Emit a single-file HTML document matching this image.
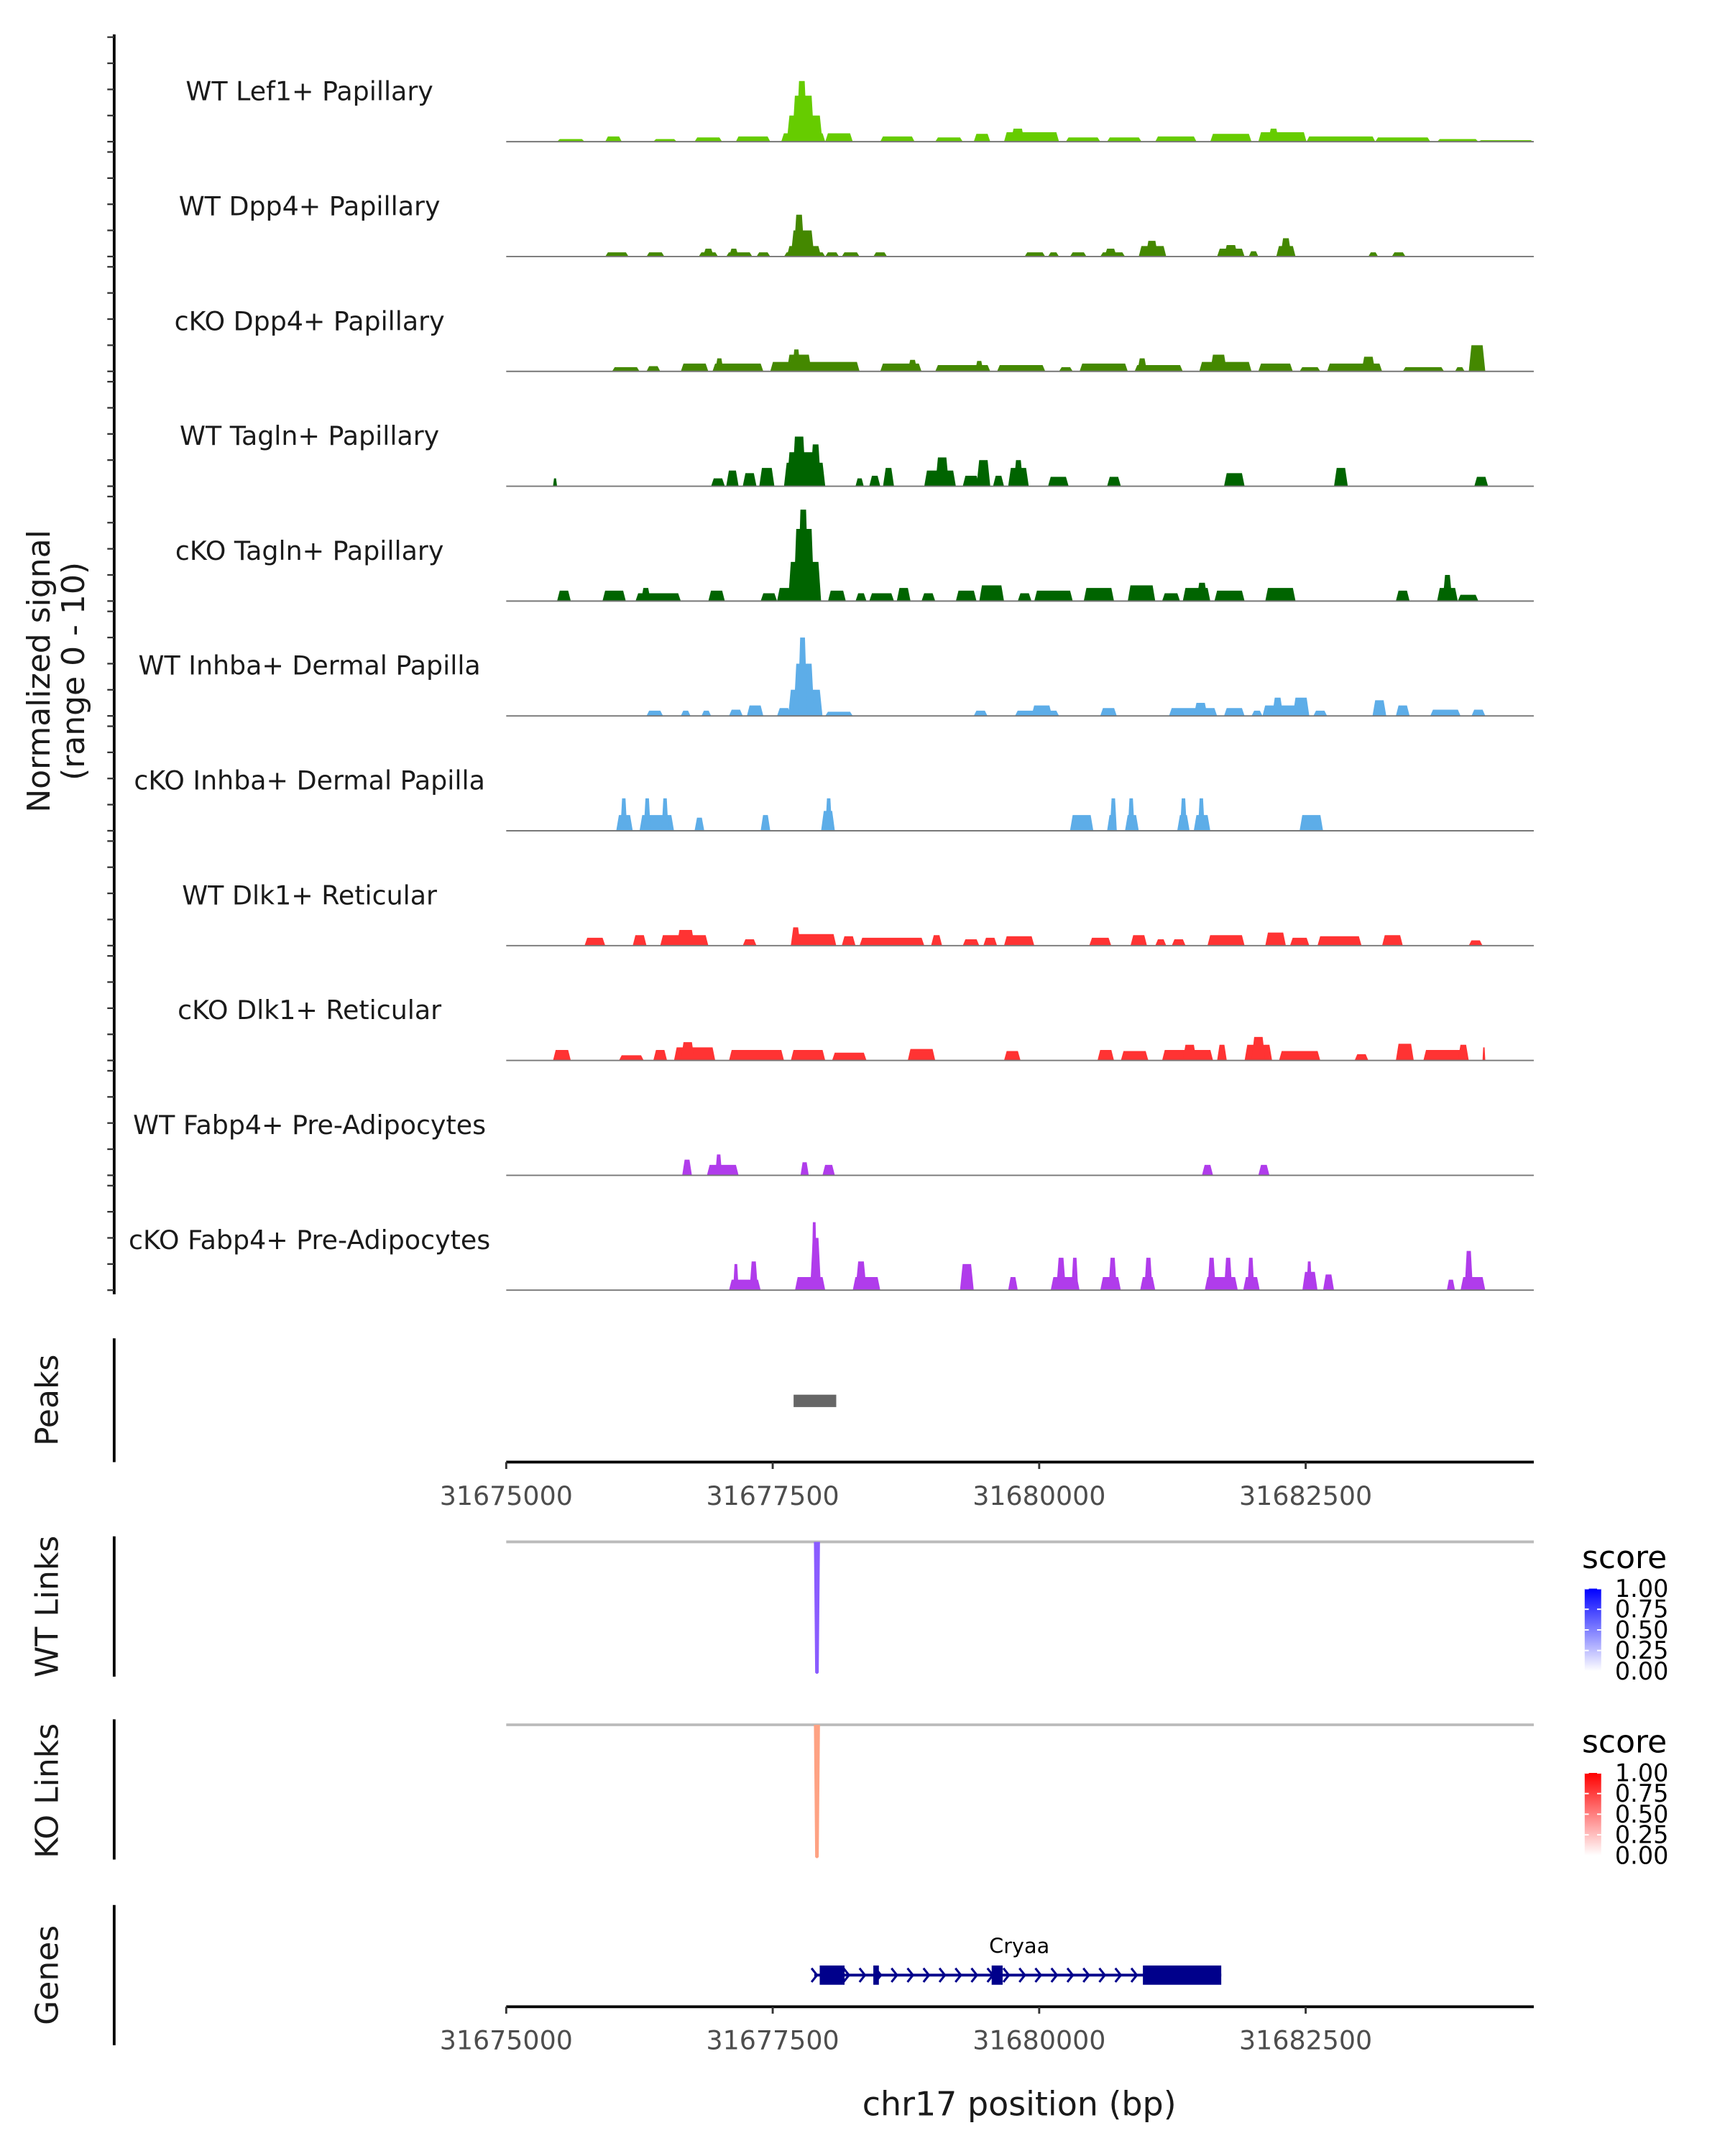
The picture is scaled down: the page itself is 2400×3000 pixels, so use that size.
<!DOCTYPE html>
<html><head><meta charset="utf-8">
<style>
html,body{margin:0;padding:0;background:#fff;}
svg{display:block;font-family:"DejaVu Sans","Liberation Sans",sans-serif;}
</style></head>
<body>
<svg id="chart" xmlns="http://www.w3.org/2000/svg" width="2400" height="3000" viewBox="0 0 1254 1567.5">
</svg>
<script>
// genomic offsets are relative to regionStart (bp); values are normalized signal (0-10)
const regionStart = 31675000;
const axisTicks = [31675000, 31677500, 31680000, 31682500];
const trackNames = ["WT Lef1+ Papillary","WT Dpp4+ Papillary","cKO Dpp4+ Papillary","WT Tagln+ Papillary","cKO Tagln+ Papillary","WT Inhba+ Dermal Papilla","cKO Inhba+ Dermal Papilla","WT Dlk1+ Reticular","cKO Dlk1+ Reticular","WT Fabp4+ Pre-Adipocytes","cKO Fabp4+ Pre-Adipocytes"];
const trackColors = ["#66cc00","#448800","#448800","#006400","#006400","#5dade8","#5dade8","#ff3333","#ff3333","#b03ceb","#b03ceb"];
const sigLef1WT = [[477,735,0.25],[929,1084,0.5],[1380,1600,0.25],[1767,2025,0.4],[2154,2477,0.5],[2580,2993,0.8],[2632,2967,2.5],[2683,2890,4.4],[2722,2825,5.8],[2993,3251,0.8],[3509,3831,0.5],[4025,4283,0.4],[4386,4541,0.75],[4670,5186,0.9],[4734,4863,1.25],[5250,5573,0.4],[5637,5960,0.4],[6089,6476,0.5],[6605,6992,0.75],[7056,7508,0.9],[7147,7250,1.25],[7508,8153,0.5],[8153,8669,0.4],[8733,9120,0.25],[9120,9636,0.15]];
const sigDpp4WT = [[929,1148,0.4],[1316,1484,0.4],[1806,1987,0.4],[1845,1948,0.75],[2064,2309,0.4],[2090,2180,0.75],[2348,2477,0.4],[2606,2993,0.4],[2632,2954,1],[2670,2890,2.5],[2696,2799,4],[2993,3122,0.4],[3148,3315,0.4],[3444,3573,0.4],[4863,5057,0.4],[5083,5186,0.4],[5289,5444,0.4],[5573,5805,0.4],[5612,5728,0.75],[5934,6192,1],[5999,6115,1.5],[6669,6927,0.75],[6734,6863,1.1],[6966,7056,0.5],[7224,7405,1],[7263,7366,1.75],[8088,8179,0.4],[8308,8437,0.4]];
const sigDpp4KO = [[993,1251,0.4],[1316,1445,0.5],[1638,1896,0.75],[1935,2412,0.75],[1961,2038,1.25],[2477,3315,0.9],[2632,2864,1.6],[2683,2761,2.1],[3509,3896,0.75],[3767,3857,1.1],[4025,4541,0.6],[4399,4476,1],[4605,5057,0.6],[5186,5315,0.4],[5379,5831,0.75],[5895,6347,0.6],[5921,6011,1.25],[6502,6992,0.9],[6605,6760,1.6],[7056,7379,0.75],[7443,7637,0.4],[7701,8217,0.75],[8024,8153,1.4],[8411,8798,0.4],[8901,8991,0.4],[9030,9185,2.5]];
const sigTaglnWT = [[439,477,0.75],[1922,2051,0.75],[2064,2180,1.5],[2219,2348,1.25],[2374,2516,1.75],[2606,2993,2.25],[2632,2941,3.25],[2683,2812,4.75],[2851,2954,4],[3277,3354,0.75],[3406,3509,1],[3535,3638,1.75],[3922,4218,1.5],[4025,4154,2.75],[4283,4438,1],[4412,4541,2.5],[4567,4670,1],[4709,4902,1.75],[4760,4850,2.5],[5083,5276,0.9],[5637,5766,0.9],[6734,6927,1.25],[7766,7895,1.75],[9082,9211,0.9]];
const sigTaglnKO = [[477,606,1],[903,1122,1],[1213,1638,0.75],[1264,1355,1.25],[1896,2051,1],[2387,2541,0.75],[2541,2954,1.25],[2645,2954,3.75],[2696,2890,6.9],[2735,2838,8.75],[3019,3186,1],[3277,3380,0.75],[3406,3638,0.75],[3664,3793,1.25],[3896,4025,0.75],[4218,4412,1],[4438,4670,1.5],[4799,4928,0.75],[4954,5315,1],[5418,5702,1.25],[5831,6089,1.5],[6153,6321,0.75],[6347,6605,1.25],[6476,6579,1.75],[6644,6927,1],[7121,7405,1.25],[8346,8475,1],[8733,8927,1.25],[8785,8875,2.5],[8927,9120,0.6]];
const sigInhbaWT = [[1316,1471,0.5],[1638,1729,0.5],[1832,1922,0.5],[2090,2219,0.6],[2258,2412,1],[2541,2670,0.75],[2645,2967,2.5],[2696,2890,5],[2735,2825,7.5],[2993,3251,0.4],[4386,4515,0.5],[4773,5186,0.5],[4928,5121,1],[5573,5728,0.75],[6218,6669,0.75],[6450,6579,1.25],[6734,6927,0.75],[6992,7095,0.5],[7095,7443,1],[7185,7289,1.75],[7379,7534,1.75],[7572,7701,0.5],[8127,8256,1.5],[8346,8475,1],[8669,8953,0.6],[9056,9185,0.6]];
const sigInhbaKO = [[1032,1187,1.5],[1071,1135,3.1],[1251,1574,1.5],[1290,1355,3.1],[1458,1522,3.1],[1767,1858,1.25],[2387,2477,1.5],[2954,3083,1.9],[2993,3057,3.1],[5289,5508,1.5],[5637,5728,1.5],[5663,5728,3.1],[5805,5934,1.5],[5831,5895,3.1],[6295,6411,1.5],[6321,6386,3.1],[6450,6605,1.5],[6489,6553,3.1],[7443,7663,1.5]];
const sigDlk1WT = [[735,929,0.75],[1187,1316,1],[1445,1896,1],[1600,1767,1.5],[2219,2348,0.6],[2670,3096,1.1],[2670,2761,1.75],[3148,3277,0.9],[3315,3922,0.75],[3986,4089,1],[4283,4438,0.6],[4476,4605,0.75],[4670,4954,0.9],[5470,5676,0.75],[5857,6011,1],[6089,6192,0.6],[6244,6373,0.6],[6579,6927,1],[7121,7314,1.25],[7353,7534,0.75],[7611,8024,0.9],[8217,8411,1],[9030,9159,0.5]];
const sigDlk1KO = [[439,606,1],[1058,1290,0.5],[1380,1509,1],[1574,1961,1.25],[1638,1767,1.75],[2090,2606,1],[2670,2993,1],[3057,3380,0.75],[3767,4025,1.1],[4670,4825,0.9],[5547,5702,1],[5766,6024,0.9],[6153,6631,1],[6347,6476,1.5],[6669,6760,1.5],[6927,7185,1.5],[6992,7121,2.25],[7250,7637,0.9],[7959,8088,0.6],[8346,8514,1.6],[8604,9030,1],[8927,9030,1.5],[9159,9185,1.25]];
const sigFabp4WT = [[1651,1742,1.5],[1883,2180,1],[1961,2025,2],[2761,2838,1.25],[2967,3083,1],[6527,6631,1],[7056,7160,1]];
const sigFabp4KO = [[2090,2387,1],[2129,2180,2.5],[2283,2361,2.75],[2709,2993,1.25],[2851,2954,5],[2864,2915,6.5],[3251,3509,1.25],[3277,3380,2.75],[4257,4386,2.5],[4709,4799,1.25],[5108,5379,1.25],[5160,5250,3.1],[5302,5366,3.1],[5573,5766,1.25],[5650,5728,3.1],[5947,6089,1.25],[5986,6063,3.1],[6553,6863,1.25],[6579,6656,3.1],[6734,6811,3.1],[6914,7069,1.25],[6953,7018,3.1],[7469,7611,1.75],[7508,7559,2.75],[7663,7766,1.5],[8824,8901,1],[8953,9185,1.25],[8991,9069,3.75]];
const trackSignals = [sigLef1WT,sigDpp4WT,sigDpp4KO,sigTaglnWT,sigTaglnKO,sigInhbaWT,sigInhbaKO,sigDlk1WT,sigDlk1KO,sigFabp4WT,sigFabp4KO];
const peakRanges = [[2696,3096]];
const wtLinks = [[2915,0.6]];
const koLinks = [[2915,0.5]];
const geneSpan = [2890,6708];
const geneExons = [[2941,3174],[3444,3496],[4554,4657],[5973,6708]];
const legendTicks = [1.00,0.75,0.50,0.25,0.00];

const NS="http://www.w3.org/2000/svg";
const svg=document.getElementById('chart');
const X0=368, X1=1115, BP0=31675000, BP1=31684640;
function xs(bp){return X0+(bp-BP0)/(BP1-BP0)*(X1-X0);}
function xo(off){return xs(regionStart+off);}
const TRACK_H=76;
function ys(base,v){return base - v/10*TRACK_H;}
function el(tag,attrs,parent){const e=document.createElementNS(NS,tag);for(const k in attrs)e.setAttribute(k,attrs[k]);(parent||svg).appendChild(e);return e;}

let t=el('text',{x:0,y:0,transform:'translate(42,488) rotate(-90)','text-anchor':'middle','font-size':23,fill:'#1a1a1a'});


t.innerHTML='<tspan x="0" dy="-6">Normalized signal</tspan><tspan x="0" dy="25">(range 0 - 10)</tspan>';

let ax=el('line',{x1:83,x2:83,y1:25,y2:941,stroke:'#000','stroke-width':2});



trackNames.forEach((name,i)=>{
  const base=103+i*83.5;
  const g=el('g',{});
  
  
  [0,2.5,5,7.5,10].forEach(v=>{
    const tk=el('line',{x1:78,x2:83,y1:ys(base,v),y2:ys(base,v),stroke:'#333','stroke-width':1.2},g);
    
    
  });
  const lb=el('text',{x:225,y:base-30,'text-anchor':'middle','font-size':19,fill:'#1a1a1a'},g);
  
  
  lb.textContent=name;
  trackSignals[i].forEach(b=>{
    const s=b[0],e=b[1],v=b[2];
    const sl=Math.min(25,(e-s)/4);
    const pts=[[xo(s),base],[xo(s+sl),ys(base,v)],[xo(e-sl),ys(base,v)],[xo(e),base]].map(p=>p.join(',')).join(' ');
    const p=el('polygon',{points:pts,fill:trackColors[i]},g);
    
    
  });
  const bl=el('line',{x1:X0,x2:X1,y1:base,y2:base,stroke:'#777','stroke-width':1},g);
  
  
});

function sideLabel(text,y,y1,y2,name){
  const tx=el('text',{transform:'translate(42,'+y+') rotate(-90)','text-anchor':'middle','font-size':23,fill:'#1a1a1a'});
  
  
  tx.textContent=text;
  const l=el('line',{x1:83,x2:83,y1:y1,y2:y2,stroke:'#000','stroke-width':2});
  
  
}
function xAxis(y,name){
  const g=el('g',{});
  
  
  el('line',{x1:X0,x2:X1,y1:y,y2:y,stroke:'#000','stroke-width':2},g);
  axisTicks.forEach(v=>{
    const x=xs(v);
    el('line',{x1:x,x2:x,y1:y,y2:y+5,stroke:'#333','stroke-width':1.5},g);
    const tl=el('text',{x:x,y:y+31,'text-anchor':'middle','font-size':19,fill:'#4d4d4d'},g);
    
    
    tl.textContent=v;
  });
}

sideLabel('Peaks',1018,973,1063,'peaks');
peakRanges.forEach(p=>{
  const r=el('rect',{x:xo(p[0]),y:1014,width:xo(p[1])-xo(p[0]),height:9,fill:'#666'});
  
  
});
xAxis(1063,'peaks-x-axis');

function linkTrack(links,top,bottom,col,name,label,ly){
  sideLabel(label,ly,top-4,top+98,name);
  const gl=el('line',{x1:X0,x2:X1,y1:top,y2:top,stroke:'#bbb','stroke-width':2});
  
  
  links.forEach(l=>{
    const x=xo(l[0]);
    const p=el('path',{d:`M${x-2.2},${top} L${x+2.2},${top} L${x+1.3},${bottom} Q${x},${bottom+2} ${x-1.3},${bottom} Z`,fill:col});
    
    
  });
}
linkTrack(wtLinks,1121,1216,'#8a5cff','wt-links','WT Links',1168);
linkTrack(koLinks,1254,1350,'#fea283','ko-links','KO Links',1302);

function legend(y,c1,name,id){
  const g=el('g',{});
  
  
  const d=el('defs',{},g);
  const lg=el('linearGradient',{id:id,x1:0,y1:0,x2:0,y2:1},d);
  el('stop',{offset:0,'stop-color':c1},lg);
  el('stop',{offset:1,'stop-color':'#fff'},lg);
  const st=el('text',{x:1150,y:y,'font-size':23,fill:'#000'},g);
  st.textContent='score';
  const by=y+15, bh=60;
  el('rect',{x:1152,y:by,width:12,height:bh,fill:'url(#'+id+')'},g);
  legendTicks.forEach(v=>{
    const yy=by+(1-v)*bh;
    el('line',{x1:1152,x2:1155,y1:yy,y2:yy,stroke:'#fff'},g);
    el('line',{x1:1161,x2:1164,y1:yy,y2:yy,stroke:'#fff'},g);
    const lt=el('text',{x:1174,y:yy+6,'font-size':17.5,fill:'#000'},g);
    lt.textContent=v.toFixed(2);
  });
}
legend(1140,'#0000ff','wt-score-legend','gB');
legend(1274,'#ff0000','ko-score-legend','gR');

sideLabel('Genes',1436,1385,1487,'genes');
const gg=el('g',{});


const gy=1436;
el('line',{x1:xo(geneSpan[0]),x2:xo(geneSpan[1]),y1:gy,y2:gy,stroke:'#00008b','stroke-width':2},gg);
for(let off=geneSpan[0];off<geneSpan[1]-150;off+=150){
  const x=xo(off);
  el('polyline',{points:`${x-2},${gy-5} ${x+2},${gy} ${x-2},${gy+5}`,fill:'none',stroke:'#00008b','stroke-width':1.6},gg);
}
geneExons.forEach(e=>{
  const r=el('rect',{x:xo(e[0]),y:gy-7,width:xo(e[1])-xo(e[0]),height:14,fill:'#00008b'},gg);
  
  
});
const gn=el('text',{x:741,y:1420,'text-anchor':'middle','font-size':15,fill:'#000'});


gn.textContent='Cryaa';
xAxis(1459,'genes-x-axis');
const xt=el('text',{x:741,y:1538,'text-anchor':'middle','font-size':24,fill:'#1a1a1a'});


xt.textContent='chr17 position (bp)';
</script>
</body></html>
